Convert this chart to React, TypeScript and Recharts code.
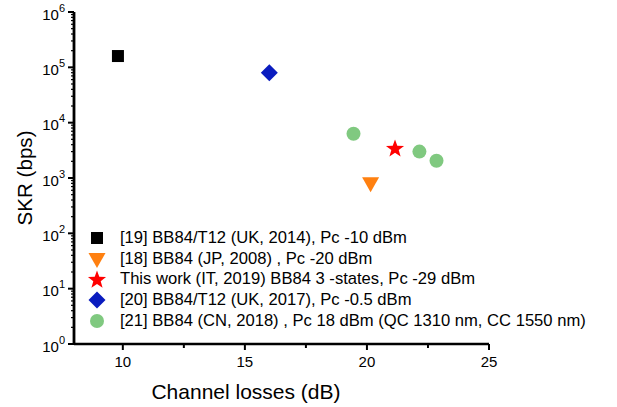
import React from "react";
import { ScatterChart, Scatter, XAxis, YAxis, Legend } from "recharts";

const squareData = [{ x: 9.8, y: 160000 }];
const triangleData = [{ x: 20.15, y: 800 }];
const starData = [{ x: 21.15, y: 3500 }];
const diamondData = [{ x: 16.0, y: 80000 }];
const circleData = [
  { x: 19.45, y: 6300 },
  { x: 22.15, y: 3000 },
  { x: 22.85, y: 2050 },
];

const xTicks = [10, 12.5, 15, 17.5, 20, 22.5, 25];
const yMajor = [1, 10, 100, 1000, 10000, 100000, 1000000];
const yMinor = yMajor.slice(0, 6).flatMap((d) => [2, 3, 4, 5, 6, 7, 8, 9].map((m) => m * d));

const legendItems = [
  { name: "[19] BB84/T12 (UK, 2014), Pc -10 dBm", shape: "square", color: "#000000" },
  { name: "[18] BB84 (JP, 2008) , Pc -20 dBm", shape: "tri", color: "#FF8010" },
  { name: "This work (IT, 2019) BB84 3 -states, Pc -29 dBm", shape: "star", color: "#FF0000" },
  { name: "[20] BB84/T12 (UK, 2017), Pc -0.5 dBm", shape: "diamond", color: "#0A1CBF" },
  { name: "[21] BB84 (CN, 2018) , Pc 18 dBm (QC 1310 nm, CC 1550 nm)", shape: "circle", color: "#80C980" },
];

const FONT = "Arial, 'Liberation Sans', sans-serif";

function starPath(cx: number, cy: number, ro: number, ri: number) {
  let d = "";
  for (let i = 0; i < 10; i++) {
    const r = i % 2 === 0 ? ro : ri;
    const a = -Math.PI / 2 + (i * Math.PI) / 5;
    d += (i === 0 ? "M" : "L") + (cx + r * Math.cos(a)).toFixed(2) + "," + (cy + r * Math.sin(a)).toFixed(2);
  }
  return d + "Z";
}

function Marker({ shape, color, cx, cy }: { shape: string; color: string; cx: number; cy: number }) {
  switch (shape) {
    case "square":
      return <rect x={cx - 6} y={cy - 6} width={12} height={12} fill={color} />;
    case "tri":
      return <path d={`M${cx - 8.5},${cy - 6} L${cx + 8.5},${cy - 6} L${cx},${cy + 9} Z`} fill={color} />;
    case "star":
      return <path d={starPath(cx, cy + 1, 9.5, 3.9)} fill={color} />;
    case "diamond":
      return <path d={`M${cx},${cy - 8.5} L${cx + 8.5},${cy} L${cx},${cy + 8.5} L${cx - 8.5},${cy} Z`} fill={color} />;
    default:
      return <circle cx={cx} cy={cy} r={7} fill={color} />;
  }
}

const makeShape = (shape: string, color: string) => (props: any) =>
  <Marker shape={shape} color={color} cx={props.cx} cy={props.cy} />;

const YTick = (props: any) => {
  const { x, y, payload } = props;
  const v = payload.value;
  const exp = Math.round(Math.log10(v));
  const major = Math.abs(Math.pow(10, exp) - v) < 1e-6;
  if (!major) {
    return <line x1={x} x2={x - 3} y1={y} y2={y} stroke="#000" strokeWidth={1.2} />;
  }
  return (
    <g>
      <line x1={x} x2={x - 6} y1={y} y2={y} stroke="#000" strokeWidth={2} />
      <text x={x - 9} y={y + 7.5} textAnchor="end" fontSize={15} fontFamily={FONT} fill="#000">
        10<tspan dy={-8} fontSize={11}>{exp}</tspan>
      </text>
    </g>
  );
};

const XTick = (props: any) => {
  const { x, y, payload } = props;
  const v = payload.value;
  const major = Number.isInteger(v);
  return (
    <g>
      <line x1={x} x2={x} y1={y} y2={y + (major ? 6 : 4)} stroke="#000" strokeWidth={2} />
      {major && (
        <text x={x} y={y + 23} textAnchor="middle" fontSize={15} fontFamily={FONT} fill="#000">
          {v}
        </text>
      )}
    </g>
  );
};

const LegendContent = () => (
  <div style={{ fontFamily: FONT, fontSize: 16.6, color: "#000" }}>
    {legendItems.map((it) => (
      <div key={it.name} style={{ display: "flex", alignItems: "center", height: 20.6, whiteSpace: "nowrap" }}>
        <svg width={20} height={20} style={{ marginRight: 13 }}>
          <Marker shape={it.shape} color={it.color} cx={10} cy={10} />
        </svg>
        <span>{it.name}</span>
      </div>
    ))}
  </div>
);

export default function App() {
  return (
    <div style={{ position: "absolute", left: 0, top: 0, background: "#fff" }}>
      <ScatterChart width={617} height={407} margin={{ top: 12, right: 128, bottom: 0, left: 0 }}>
        <XAxis
          type="number"
          dataKey="x"
          domain={[8, 25]}
          ticks={xTicks}
          allowDataOverflow
          height={63}
          tickSize={0}
          tickMargin={0}
          tickLine={false}
          axisLine={{ stroke: "#000", strokeWidth: 2.6 }}
          tick={<XTick />}
          interval={0}
          label={() => (
            <text x={246} y={399} textAnchor="middle" fontSize={21} fontFamily={FONT} fill="#000">
              Channel losses (dB)
            </text>
          )}
        />
        <YAxis
          type="number"
          dataKey="y"
          scale="log"
          domain={[1, 1000000]}
          ticks={[...yMajor, ...yMinor]}
          allowDataOverflow
          width={74}
          tickSize={0}
          tickMargin={0}
          tickLine={false}
          axisLine={{ stroke: "#000", strokeWidth: 2.8 }}
          tick={<YTick />}
          interval={0}
          label={() => (
            <text
              x={24}
              y={178}
              transform="rotate(-90 24 178)"
              textAnchor="middle"
              dominantBaseline="central"
              fontSize={20.6}
              fontFamily={FONT}
              fill="#000"
            >
              SKR (bps)
            </text>
          )}
        />
        <Legend
          layout="vertical"
          align="center"
          verticalAlign="middle"
          content={<LegendContent />}
          wrapperStyle={{ position: "absolute", left: 87, top: 228, width: "auto" }}
        />
        <Scatter name="sq" data={squareData} shape={makeShape("square", "#000000")} isAnimationActive={false} />
        <Scatter name="tri" data={triangleData} shape={makeShape("tri", "#FF8010")} isAnimationActive={false} />
        <Scatter name="star" data={starData} shape={makeShape("star", "#FF0000")} isAnimationActive={false} />
        <Scatter name="dia" data={diamondData} shape={makeShape("diamond", "#0A1CBF")} isAnimationActive={false} />
        <Scatter name="circ" data={circleData} shape={makeShape("circle", "#80C980")} isAnimationActive={false} />
      </ScatterChart>
    </div>
  );
}
